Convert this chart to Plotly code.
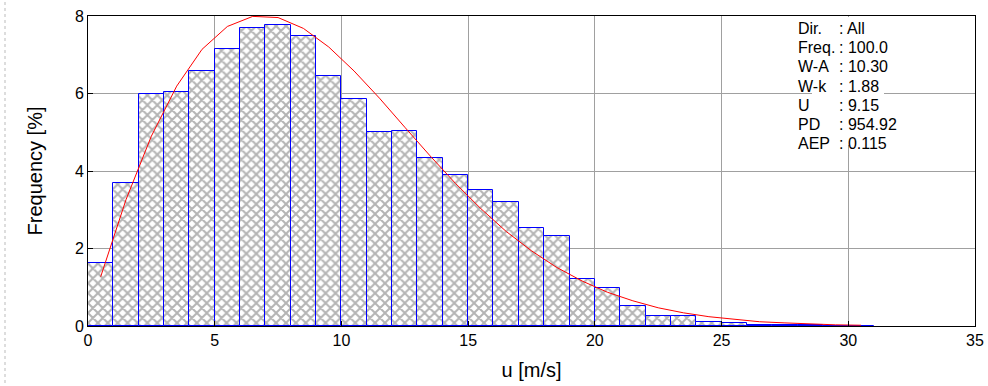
import plotly.graph_objects as go

# Data
bin_centers = [i + 0.5 for i in range(31)]
frequency = [1.62, 3.68, 5.99, 6.03, 6.58, 7.14, 7.70, 7.76, 7.48, 6.45,
             5.87, 5.01, 5.04, 4.34, 3.89, 3.52, 3.19, 2.52, 2.32, 1.22,
             0.99, 0.52, 0.27, 0.27, 0.11, 0.07, 0.03, 0.02, 0.02, 0.01, 0.01]
weibull_fit = [1.27, 3.26, 4.90, 6.19, 7.14, 7.73, 7.99, 7.96, 7.68, 7.20,
               6.58, 5.88, 5.13, 4.39, 3.68, 3.03, 2.44, 1.94, 1.51, 1.16,
               0.87, 0.65, 0.47, 0.34, 0.24, 0.17, 0.11, 0.08, 0.05, 0.03, 0.02]
info_labels = ["Dir.", "Freq.", "W-A", "W-k", "U", "PD", "AEP"]
info_values = ["All", "100.0", "10.30", "1.88", "9.15", "954.92", "0.115"]

FONT = "Liberation Sans, Arial, sans-serif"
L, R, T, B = 88, 13, 16, 60
W, H = 988, 386
PW, PH = W - L - R, H - T - B

def px(x):
    return (x - L) / PW

def py(y):
    return 1 - (y - T) / PH

fig = go.Figure()
fig.add_trace(go.Bar(
    x=bin_centers, y=frequency, width=1.0,
    marker=dict(color="white",
                line=dict(color="#0000ff", width=1),
                pattern=dict(shape="x", fgcolor="#6a6a6a", bgcolor="white",
                             size=7, solidity=0.5)),
    showlegend=False, hoverinfo="x+y",
))
fig.add_trace(go.Scatter(
    x=bin_centers, y=weibull_fit, mode="lines",
    line=dict(color="#ff0000", width=1), showlegend=False,
))

annotations = []
row_y0, row_dy = 28.5, 19.2
for i, (lab, val) in enumerate(zip(info_labels, info_values)):
    yy = py(row_y0 + i * row_dy)
    annotations.append(dict(x=px(796), y=yy, xref="paper", yref="paper",
                            text=lab, showarrow=False, xanchor="left",
                            yanchor="middle", font=dict(family=FONT, size=16, color="black")))
    annotations.append(dict(x=px(837), y=yy, xref="paper", yref="paper",
                            text=": " + val, showarrow=False, xanchor="left",
                            yanchor="middle", font=dict(family=FONT, size=16, color="black")))

shapes = [
    dict(type="rect", xref="paper", yref="paper", x0=px(812), x1=px(884),
         y0=py(145), y1=py(17), fillcolor="white", line=dict(width=0), layer="above"),
    dict(type="line", xref="paper", yref="paper", x0=px(5), x1=px(5),
         y0=py(2), y1=py(384), line=dict(color="#bbbbbb", width=1, dash="dot")),
]

fig.update_layout(
    width=W, height=H,
    margin=dict(l=L, r=R, t=T, b=B, autoexpand=False),
    paper_bgcolor="white", plot_bgcolor="white",
    bargap=0,
    font=dict(family=FONT, size=16, color="black"),
    annotations=annotations,
    shapes=shapes,
)
fig.update_xaxes(
    range=[0, 35], tickmode="linear", tick0=0, dtick=5,
    showgrid=True, gridcolor="#a0a0a0", gridwidth=1,
    showline=True, linecolor="black", linewidth=1, mirror=True,
    ticks="inside", ticklen=5, tickcolor="black",
    zeroline=False, automargin=False,
    title=dict(text="u [m/s]", font=dict(size=20), standoff=14),
    tickfont=dict(size=16),
)
fig.update_yaxes(
    range=[0, 8], tickmode="linear", tick0=0, dtick=2,
    showgrid=True, gridcolor="#a0a0a0", gridwidth=1,
    showline=True, linecolor="black", linewidth=1, mirror=True,
    ticks="inside", ticklen=5, tickcolor="black",
    zeroline=False, automargin=False,
    title=dict(text="Frequency [%]", font=dict(size=20), standoff=26),
    tickfont=dict(size=16),
)

fig.write_html("out.html")
